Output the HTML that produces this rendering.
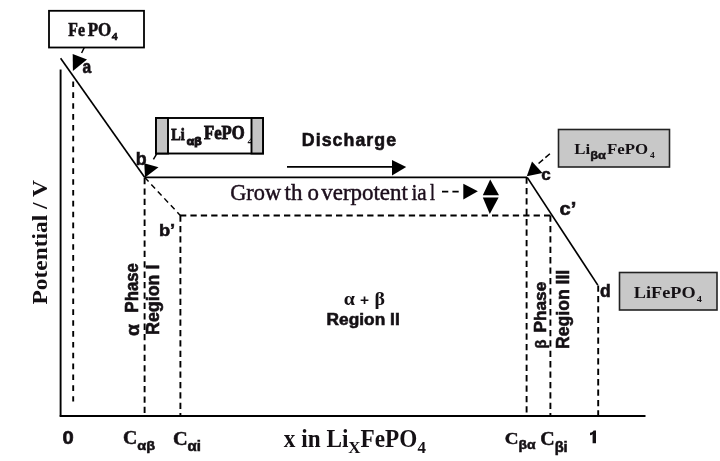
<!DOCTYPE html>
<html><head><meta charset="utf-8">
<style>
html,body{margin:0;padding:0;background:#fff;width:720px;height:461px;overflow:hidden}
svg{display:block;filter:blur(0.35px)}
.ser{font-family:"Liberation Serif",serif}
.san{font-family:"Liberation Sans",sans-serif}
.bs{stroke:#141014;stroke-width:0.55px}
.bsr{stroke:#141014;stroke-width:0.5px}
text{fill:#141014}
</style></head><body>
<svg width="720" height="461" viewBox="0 0 720 461">
<rect width="720" height="461" fill="#fff"/>
<g stroke="#000" fill="none" stroke-width="1.9">
  <line x1="60.6" y1="69.5" x2="60.6" y2="416.6"/>
  <line x1="59.7" y1="416" x2="645.5" y2="416"/>
</g>
<line x1="60.6" y1="58.3" x2="144.8" y2="177.6" stroke="#000" stroke-width="1.65"/>
<g stroke="#000" fill="none" stroke-width="1.7">
  <line x1="144.8" y1="177.4" x2="527" y2="177.4"/>
  <line x1="527.2" y1="177.4" x2="597.8" y2="285.1"/>
</g>
<g stroke="#000" fill="none" stroke-width="1.9" stroke-dasharray="6.3 4.1">
  <line x1="180" y1="215.5" x2="551" y2="215.5"/>
  <line x1="144.6" y1="178" x2="144.6" y2="415"/>
  <line x1="180.4" y1="215.5" x2="180.4" y2="415"/>
  <line x1="526.6" y1="177.5" x2="526.6" y2="415"/>
  <line x1="550.4" y1="215.5" x2="550.4" y2="415"/>
  <line x1="598.2" y1="285.5" x2="598.2" y2="415"/>
</g>
<line x1="73.2" y1="81.5" x2="73.2" y2="401.6" stroke="#000" stroke-width="1.9" stroke-dasharray="5.6 5.25"/>
<line x1="144.8" y1="177.6" x2="180.3" y2="215.4" stroke="#000" stroke-width="1.45" stroke-dasharray="5.5 4"/>
<rect x="49" y="10.8" width="95" height="36.7" fill="#fff" stroke="#000" stroke-width="1.8"/>
<line x1="84.3" y1="47.5" x2="81.6" y2="53" stroke="#000" stroke-width="1.5"/>
<polygon points="72.7,53.9 87,59.6 72.9,71" fill="#000"/>
<rect x="156" y="118" width="107" height="35.5" fill="#fff" stroke="#000" stroke-width="1.9"/>
<g class="T" id="tliab0" transform="translate(171.50,127.90) scale(0.8375,0.9750) translate(-172.00,-128.00)"><text class="ser bsr" x="171.7" y="140" font-size="17" font-weight="bold" style="stroke-width:0.8px">Li</text></g><g class="T" id="tliab1" transform="translate(186.80,136.20) scale(1.0000,0.9500) translate(-186.00,-137.00)"><text class="san bs" x="186" y="146" font-size="12" font-weight="bold" style="stroke-width:1.2px">αβ</text></g><g class="T" id="tliab2" transform="translate(203.50,127.80) scale(0.9810,1.0636) translate(-203.00,-129.00)"><text class="ser bsr" x="203.5" y="140" font-size="17" font-weight="bold" style="stroke-width:0.8px">FePO</text></g><g class="T" id="tliab3" transform="translate(247.40,137.90) scale(1.2000,1.0143) translate(-249.00,-138.00)"><text class="ser" x="249" y="145" font-size="10" font-weight="bold">4</text></g>
<rect x="156" y="118" width="12" height="35.5" fill="#c4c4c4" stroke="#000" stroke-width="1.9"/>
<rect x="251.5" y="118" width="11.5" height="35.5" fill="#c4c4c4" stroke="#000" stroke-width="1.9"/>
<line x1="156.7" y1="153.8" x2="153.4" y2="159.3" stroke="#000" stroke-width="1.5"/>
<polygon points="144.3,163.3 158.5,167.3 145,177.5" fill="#000"/>
<line x1="287" y1="166.9" x2="393" y2="166.9" stroke="#000" stroke-width="1.6"/>
<polygon points="392,159.9 406.2,167.1 392,175.4" fill="#000"/>
<line x1="442" y1="191.6" x2="459" y2="191.6" stroke="#000" stroke-width="1.6" stroke-dasharray="6.3 4.1"/>
<polygon points="463.3,183.8 477.9,191.3 463.3,199.4" fill="#000"/>
<polygon points="490.2,179.4 482.8,195.2 499,195.2" fill="#000"/>
<polygon points="482.8,197.4 498.6,197.4 489.8,214" fill="#000"/>
<rect x="558.5" y="129.5" width="111" height="37.5" fill="#c8c8c8" stroke="#222" stroke-width="1.6"/>
<line x1="549.9" y1="153.7" x2="537.4" y2="164.5" stroke="#000" stroke-width="1.5" stroke-dasharray="6 3"/>
<polygon points="532,161.5 542.5,173 526.8,176.2" fill="#000"/>
<rect x="619.5" y="272.5" width="97.5" height="37.5" fill="#c8c8c8" stroke="#222" stroke-width="1.6"/>
<path d="M592.6,443.3 L596,443.3 L596,430.6 L593.6,430.6 C593.2,431.9 591.8,432.6 590,432.8 L590,435.2 C591,435.1 592,434.7 592.6,434.2 Z" fill="#141014"/>
<g class="T" id="t0" transform="translate(68.30,23.50) scale(0.9278,1.0636) translate(-68.00,-24.00)"><text class="ser bsr" x="68" y="35.3" font-size="17" font-weight="bold">Fe</text></g>
<g class="T" id="t1" transform="translate(87.70,23.50) scale(1.0000,1.0909) translate(-88.00,-24.00)"><text class="ser bsr" x="88" y="35.3" font-size="17" font-weight="bold">PO</text></g>
<g class="T" id="t2" transform="translate(111.80,32.00) scale(1.1800,1.0571) translate(-112.00,-32.00)"><text class="ser bsr" x="112" y="39.4" font-size="10" font-weight="bold">4</text></g>
<g class="T" id="t3" transform="translate(82.70,63.40) scale(0.9200,1.0889) translate(-83.00,-64.00)"><text class="san bs" x="82.7" y="73.2" font-size="17" font-weight="bold">a</text></g>
<g class="T" id="t4" transform="translate(136.60,152.00) scale(1.0444,1.1000) translate(-137.00,-153.00)"><text class="san bs" x="136.3" y="165" font-size="17" font-weight="bold">b</text></g>
<g class="T" id="t5" transform="translate(160.00,223.50) scale(1.0769,0.9917) translate(-161.00,-223.00)"><text class="san bs" x="160" y="235.4" font-size="17" font-weight="bold">b’</text></g>
<g class="T" id="t6" transform="translate(302.90,132.60) scale(1.0461,1.1333) translate(-304.00,-134.00)"><text class="san bs" x="303" y="146" font-size="17" font-weight="bold" letter-spacing="1">Discharge</text></g>
<g class="T" id="t7" transform="translate(230.60,0) scale(0.9604,1) translate(-231.00,0)"><text class="ser" x="230.6" y="200.1" font-size="23.3" style="fill:#1c0e1c;stroke:#1c0e1c;stroke-width:0.45px">Grow</text></g>
<g class="T" id="t8" transform="translate(284.75,0) scale(0.9861,1) translate(-284.00,0)"><text class="ser" x="283.75" y="200.1" font-size="23.3" style="fill:#1c0e1c;stroke:#1c0e1c;stroke-width:0.45px">th</text></g>
<g class="T" id="t9" transform="translate(307.60,0) scale(0.9818,1) translate(-308.00,0)"><text class="ser" x="307.8" y="200.1" font-size="23.3" style="fill:#1c0e1c;stroke:#1c0e1c;stroke-width:0.45px">o</text></g>
<g class="T" id="t10" transform="translate(321.50,0) scale(0.9864,1) translate(-320.00,0)"><text class="ser" x="319.7" y="200.1" font-size="23.3" style="fill:#1c0e1c;stroke:#1c0e1c;stroke-width:0.45px">verpotent</text></g>
<g class="T" id="t11" transform="translate(411.70,0) scale(0.9094,1) translate(-412.00,0)"><text class="ser" x="411.7" y="200.1" font-size="23.3" style="fill:#1c0e1c;stroke:#1c0e1c;stroke-width:0.45px">ia</text></g>
<g class="T" id="t12" transform="translate(430.00,0) scale(0.7667,1) translate(-430.00,0)"><text class="ser" x="430" y="200.1" font-size="23.3" style="fill:#1c0e1c;stroke:#1c0e1c;stroke-width:0.45px">l</text></g>
<g class="T" id="t13" transform="translate(575.00,143.10) scale(0.9925,0.8952) translate(-575.00,-142.00)"><text class="ser" x="574.2" y="154.2" font-size="17" font-weight="bold">Li<tspan class="san bs" font-size="13" dy="6">βα</tspan><tspan dy="-6" dx="1">FePO</tspan><tspan font-size="9.5" dy="5" dx="2">4</tspan></text></g>
<g class="T" id="t14" transform="translate(541.30,170.20) scale(0.9500,0.9500) translate(-542.00,-170.00)"><text class="san bs" x="542" y="180.2" font-size="18" font-weight="bold">c</text></g>
<g class="T" id="t15" transform="translate(559.60,202.00) scale(1.1846,1.0833) translate(-559.00,-204.00)"><text class="san bs" x="559" y="216" font-size="17" font-weight="bold">c’</text></g>
<g class="T" id="t16" transform="translate(600.10,283.50) scale(1.0300,1.1167) translate(-600.00,-285.00)"><text class="san bs" x="600" y="297" font-size="17" font-weight="bold">d</text></g>
<g class="T" id="t17" transform="translate(634.70,286.90) scale(1.0742,0.9250) translate(-635.00,-287.00)"><text class="ser" x="634.2" y="298.8" font-size="17" font-weight="bold">LiFePO<tspan font-size="9.5" dy="4" dx="1">4</tspan></text></g>
<g class="T" id="t18" transform="translate(128.30,324.30) scale(1.0300,1.0727) translate(-128.00,-325.00)"><text class="san bs" font-size="18" font-weight="bold" transform="translate(138,336) rotate(-90)">α</text></g>
<g class="T" id="t19" transform="translate(124.40,263.30) scale(1.1333,1.0457) translate(-126.00,-265.00)"><text class="san bs" font-size="16" font-weight="bold" transform="translate(138,312) rotate(-90)">Phase</text></g>
<g class="T" id="t20" transform="translate(145.50,265.70) scale(1.0867,1.0492) translate(-146.00,-268.00)"><text class="san bs" font-size="17" font-weight="bold" transform="translate(158,334) rotate(-90)">Region I</text></g>
<g class="T" id="t21" transform="translate(534.10,339.30) scale(0.9600,0.9111) translate(-534.00,-336.00)"><text class="san bs" font-size="16" font-weight="bold" transform="translate(546,346) rotate(-90)">β</text></g>
<g class="T" id="t22" transform="translate(533.80,281.90) scale(1.0583,1.0761) translate(-534.00,-288.00)"><text class="san bs" font-size="16" font-weight="bold" transform="translate(546,335) rotate(-90)">Phase</text></g>
<g class="T" id="t23" transform="translate(555.90,270.30) scale(1.0533,1.0347) translate(-556.00,-272.00)"><text class="san bs" font-size="17" font-weight="bold" transform="translate(568,348) rotate(-90)">Region III</text></g>
<g class="T" id="t24" transform="translate(344.50,292.20) scale(1.1083,1.0000) translate(-346.00,-292.00)"><text class="ser" x="364" y="304.7" font-size="18" font-weight="bold" text-anchor="middle">α<tspan class="san" font-size="14" dx="4.5">+</tspan><tspan dx="5">β</tspan></text></g>
<g class="T" id="t25" transform="translate(327.40,313.30) scale(1.0833,1.0200) translate(-330.00,-313.00)"><text class="san bs" x="363" y="324.7" font-size="16" font-weight="bold" text-anchor="middle">Region II</text></g>
<g class="T" id="t26" transform="translate(33.00,180.40) scale(0.9867,1.0655) translate(-33.00,-188.00)"><text class="ser" font-size="22" font-weight="bold" transform="translate(47.6,304.5) rotate(-90)">Potential / V</text></g>
<g class="T" id="t27" transform="translate(63.30,430.50) scale(1.1875,1.0667) translate(-64.00,-431.00)"><text class="san bs" x="63.3" y="443.3" font-size="17" font-weight="bold">0</text></g>
<g class="T" id="t28" transform="translate(124.00,431.10) scale(1.0433,0.9773) translate(-125.00,-430.00)"><text class="ser bsr" x="124" y="443.3" font-size="19" font-weight="bold">C<tspan class="san bs" font-size="14" dy="6">αβ</tspan></text></g>
<g class="T" id="t29" transform="translate(174.00,431.80) scale(1.0708,0.9895) translate(-175.00,-430.00)"><text class="ser bsr" x="174" y="443.3" font-size="19" font-weight="bold">C<tspan class="san bs" font-size="14" dy="6">αi</tspan></text></g>
<g class="T" id="t30" transform="translate(284.40,431.10) scale(1.0571,1.1000) translate(-285.00,-432.00)"><text class="ser" x="284.4" y="446.5" font-size="22" font-weight="bold">x in Li<tspan font-size="16" dy="5">X</tspan><tspan dy="-5">FePO</tspan><tspan font-size="16" dy="5">4</tspan></text></g>
<g class="T" id="t31" transform="translate(505.80,431.50) scale(1.0033,0.9318) translate(-507.00,-430.00)"><text class="ser bsr" x="506" y="443.3" font-size="19" font-weight="bold">C<tspan class="san bs" font-size="14" dy="6">βα</tspan></text></g>
<g class="T" id="t32" transform="translate(541.30,431.50) scale(1.0500,1.0409) translate(-542.00,-430.00)"><text class="ser bsr" x="541" y="443.3" font-size="19" font-weight="bold">C<tspan class="san bs" font-size="14" dy="6">βi</tspan></text></g>
</svg>
</body></html>
